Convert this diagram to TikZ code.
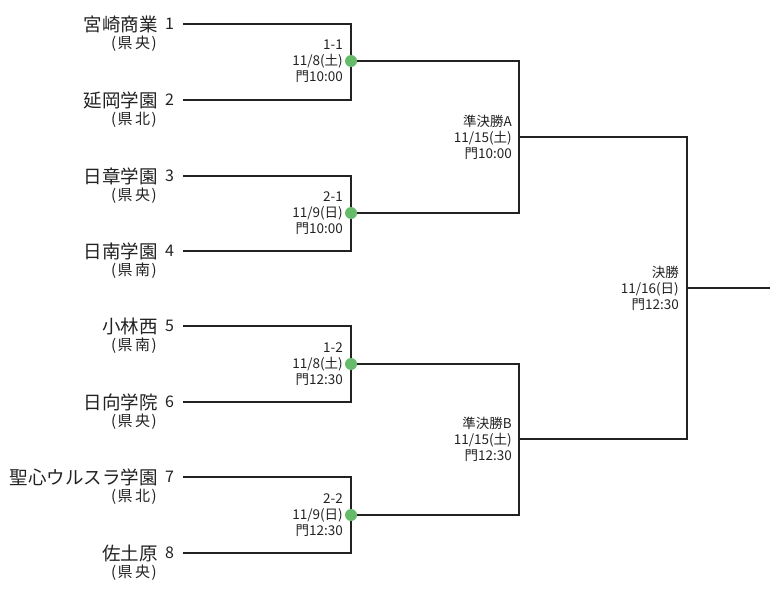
\documentclass[tikz,border=0pt]{standalone}
\usepackage{fontspec}
\setmainfont{Noto Sans CJK JP}
\definecolor{dotgreen}{HTML}{66BB6A}
\definecolor{ink}{HTML}{222222}
\tikzset{
  br/.style={draw=ink, line width=1.2pt},
  teamname/.style={anchor=east, inner sep=0pt, font=\fontsize{18.5}{20}\selectfont, text=ink},
  teamno/.style={anchor=west, inner sep=0pt, font=\fontsize{16}{18}\selectfont, text=ink},
  teampref/.style={anchor=east, inner sep=0pt, font=\fontsize{15}{18}\selectfont, text=ink},
  mlab/.style={anchor=east, inner sep=0pt, align=right, font=\fontsize{13.5}{16}\selectfont, text=ink},
  gdot/.style={circle, fill=dotgreen, draw=none, minimum size=12pt, inner sep=0pt},
}
\begin{document}
\begin{tikzpicture}[x=1pt,y=-1pt]
\useasboundingbox (0,0) rectangle (778,596);
% teams
\foreach \i/\nm/\pa/\pb/\yy in {1/宮崎商業/県/央/24, 2/延岡学園/県/北/100, 3/日章学園/県/央/176, 4/日南学園/県/南/251, 5/小林西/県/南/326, 6/日向学院/県/央/402, 7/聖心ウルスラ学園/県/北/477, 8/佐土原/県/央/553}{
  \node[teamname] (name\i) at (158,\yy) {\nm};
  \node[teamno] (no\i) at (165,\yy) {\i};
  \node[teampref] (pref\i) at (157,\yy+20) {(\kern1.5pt\pa\kern2.5pt\pb\kern1.5pt)};
  \coordinate (t\i) at (183,\yy);
}
% junctions
\coordinate (j1) at (351,61);
\coordinate (j2) at (351,213);
\coordinate (j3) at (351,364);
\coordinate (j4) at (351,515);
\coordinate (s1) at (519,137);
\coordinate (s2) at (519,439);
\coordinate (f) at (687,288);
\coordinate (fend) at (770,288);
% first round
\draw[br] (t1) -| (j1) |- (t2);
\draw[br] (t3) -| (j2) |- (t4);
\draw[br] (t5) -| (j3) |- (t6);
\draw[br] (t7) -| (j4) |- (t8);
% semis
\draw[br] (j1) -| (s1) |- (j2);
\draw[br] (j3) -| (s2) |- (j4);
% final
\draw[br] (s1) -| (f) |- (s2);
\draw[br] (f) -- (fend);
% dots
\node[gdot] (d1) at (j1) {};
\node[gdot] (d2) at (j2) {};
\node[gdot] (d3) at (j3) {};
\node[gdot] (d4) at (j4) {};
% labels
\node[mlab] (l1) at ([xshift=-8pt]j1) {1-1\\11/8(土)\\門10:00};
\node[mlab] (l2) at ([xshift=-8pt]j2) {2-1\\11/9(日)\\門10:00};
\node[mlab] (l3) at ([xshift=-8pt]j3) {1-2\\11/8(土)\\門12:30};
\node[mlab] (l4) at ([xshift=-8pt]j4) {2-2\\11/9(日)\\門12:30};
\node[mlab] (ls1) at ([xshift=-7pt]s1) {準決勝A\\11/15(土)\\門10:00};
\node[mlab] (ls2) at ([xshift=-7pt]s2) {準決勝B\\11/15(土)\\門12:30};
\node[mlab] (lf) at ([xshift=-8pt]f) {決勝\\11/16(日)\\門12:30};
\end{tikzpicture}
\end{document}
